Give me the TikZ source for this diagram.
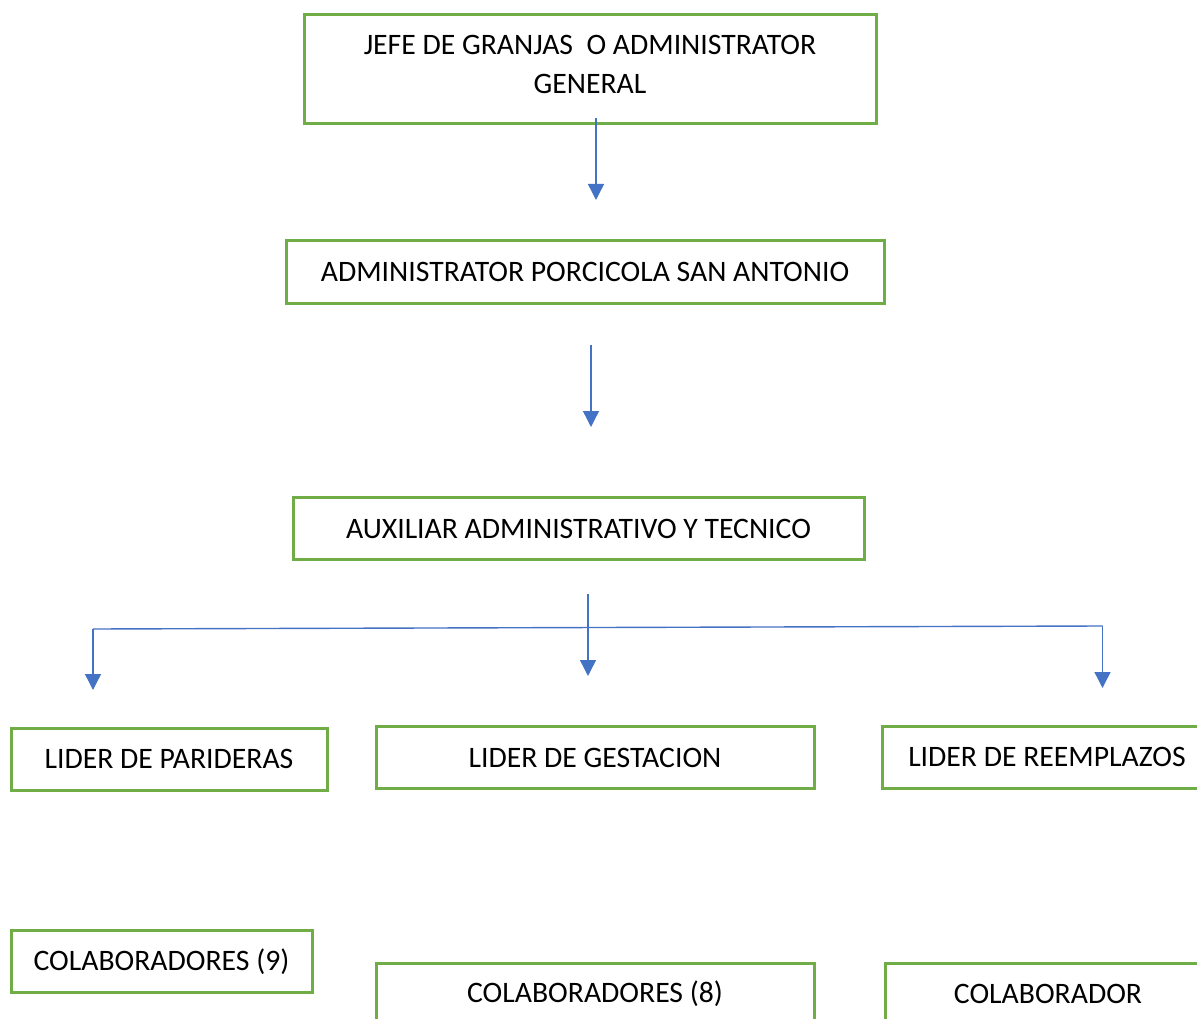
\documentclass[tikz,border=0pt]{standalone}
\usepackage{fontspec}
\setmainfont{Carlito}
\usetikzlibrary{arrows.meta}
\definecolor{boxgreen}{HTML}{70AD47}
\definecolor{linkblue}{HTML}{4472C4}

\begin{document}
\begin{tikzpicture}[x=1pt, y=-1pt,
   box/.style={draw=boxgreen, line width=3pt, minimum height=62pt,
               inner sep=0pt, align=center, font=\fontsize{29.7}{39}\selectfont},
   link/.style={draw=linkblue, line width=1.4pt,
                -{Triangle[length=16pt, width=16pt]}},
   bar/.style={draw=linkblue, line width=1.4pt}]

\useasboundingbox (0,0) rectangle (1197,1019);
\clip (0,0) rectangle (1197,1019);

% boxes
\node[box, minimum width=572pt, minimum height=109pt, text depth=10pt] (jefe) at (590,69.5)
     {JEFE DE GRANJAS\ \ O ADMINISTRATOR\\GENERAL};
\node[box, minimum width=598pt] (admin) at (585,272) {ADMINISTRATOR PORCICOLA SAN ANTONIO};
\node[box, minimum width=571pt] (aux) at (578.5,528.5) {AUXILIAR ADMINISTRATIVO Y TECNICO};

\node[box, minimum width=316pt] (lpar) at (169,759) {LIDER DE PARIDERAS};
\node[box, minimum width=438pt] (lges) at (595,757.5) {LIDER DE GESTACION};
\node[box, minimum width=330pt] (lree) at (1047,757) {LIDER DE REEMPLAZOS};

\node[box, minimum width=301pt] (cpar) at (161.5,961.5) {COLABORADORES (9)};
\node[box, minimum width=438pt] (cges) at (595,994) {COLABORADORES (8)};
\node[box, minimum width=326pt] (cree) at (1048,994) {COLABORADOR};

% arrows
\coordinate (s1) at (596,118); \coordinate (e1) at (596,200);
\coordinate (s2) at (591,345); \coordinate (e2) at (591,427);
\coordinate (s3) at (588,594); \coordinate (e3) at (588,676);
\coordinate (fl) at (93,629);  \coordinate (fle) at (93,690);
\coordinate (fr) at (1102.5,626); \coordinate (fre) at (1102.5,688);

\draw[link] (s1) -- (e1);
\draw[link] (s2) -- (e2);
\draw[link] (s3) -- (e3);
\draw[bar] (fl) -- (fr);
\draw[link] (fl) -- (fle);
\draw[link] (fr) -- (fre);

\end{tikzpicture}
\end{document}
